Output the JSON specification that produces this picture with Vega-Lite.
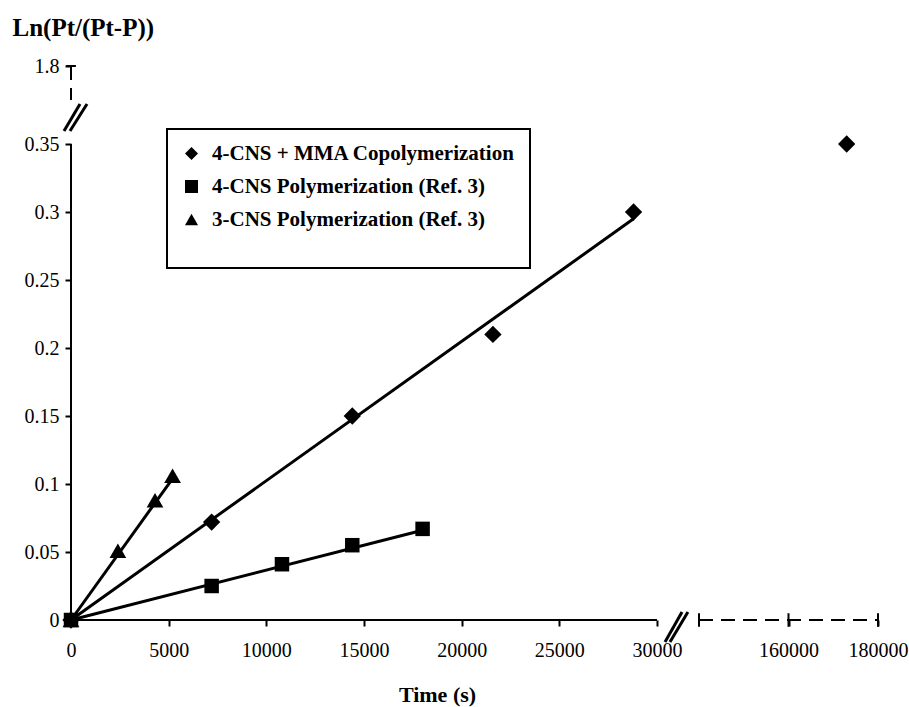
{
  "$schema": "https://vega.github.io/schema/vega-lite/v6.json",
  "width": 807,
  "height": 554,
  "autosize": "none",
  "padding": {"left": 71, "top": 66, "right": 31, "bottom": 87},
  "background": "white",
  "config": {
    "view": {"stroke": null},
    "font": "Liberation Serif",
    "axis": {
      "domain": false,
      "grid": false,
      "tickColor": "black",
      "tickSize": 6,
      "tickWidth": 2,
      "labelColor": "black",
      "labelFont": "Liberation Serif",
      "labelFontSize": 20,
      "labelFlush": false,
      "labelOverlap": false,
      "titleFont": "Liberation Serif",
      "titleFontWeight": "bold",
      "titleColor": "black"
    },
    "legend": {"strokeWidth": 2}
  },
  "datasets": {
    "points": [
      {"series": "4-CNS + MMA Copolymerization", "t": 0, "v": 0},
      {"series": "4-CNS + MMA Copolymerization", "t": 7200, "v": 0.072},
      {"series": "4-CNS + MMA Copolymerization", "t": 14400, "v": 0.15},
      {"series": "4-CNS + MMA Copolymerization", "t": 21600, "v": 0.21},
      {"series": "4-CNS + MMA Copolymerization", "t": 28800, "v": 0.30},
      {"series": "4-CNS + MMA Copolymerization", "t": 173000, "v": 0.35},
      {"series": "4-CNS Polymerization (Ref. 3)", "t": 0, "v": 0},
      {"series": "4-CNS Polymerization (Ref. 3)", "t": 7200, "v": 0.025},
      {"series": "4-CNS Polymerization (Ref. 3)", "t": 10800, "v": 0.041},
      {"series": "4-CNS Polymerization (Ref. 3)", "t": 14400, "v": 0.055},
      {"series": "4-CNS Polymerization (Ref. 3)", "t": 18000, "v": 0.067},
      {"series": "3-CNS Polymerization (Ref. 3)", "t": 0, "v": 0},
      {"series": "3-CNS Polymerization (Ref. 3)", "t": 2400, "v": 0.051},
      {"series": "3-CNS Polymerization (Ref. 3)", "t": 4300, "v": 0.088},
      {"series": "3-CNS Polymerization (Ref. 3)", "t": 5200, "v": 0.106}
    ],
    "fits": [
      {"series": "4-CNS + MMA Copolymerization", "t": 0, "v": 0},
      {"series": "4-CNS + MMA Copolymerization", "t": 28800, "v": 0.295},
      {"series": "4-CNS Polymerization (Ref. 3)", "t": 0, "v": 0},
      {"series": "4-CNS Polymerization (Ref. 3)", "t": 18000, "v": 0.066},
      {"series": "3-CNS Polymerization (Ref. 3)", "t": 0, "v": 0},
      {"series": "3-CNS Polymerization (Ref. 3)", "t": 5200, "v": 0.104}
    ],
    "axislines": [
      {"t": 0, "t2": 30000, "v": 0, "v2": 0, "style": "solid"},
      {"t": 140000, "t2": 180000, "v": 0, "v2": 0, "style": "dash"},
      {"t": 140000, "t2": 140000, "v": -0.005, "v2": 0.005, "style": "solid"},
      {"t": 160000, "t2": 160000, "v": -0.005, "v2": 0.005, "style": "solid"},
      {"t": 180000, "t2": 180000, "v": -0.005, "v2": 0.005, "style": "solid"},
      {"t": 0, "t2": 0, "v": 0, "v2": 0.35, "style": "solid"},
      {"t": 0, "t2": 0, "v": 1.8, "v2": 1.17, "style": "dash"},
      {"t": -250, "t2": 250, "v": 1.8, "v2": 1.8, "style": "solid"}
    ],
    "breaks": [
      {"t": 51000, "t2": 95500, "v": -0.0162, "v2": 0.0059},
      {"t": 64000, "t2": 111000, "v": -0.0162, "v2": 0.0059},
      {"t": -358, "t2": 461, "v": 0.592, "v2": 1.094},
      {"t": -51, "t2": 819, "v": 0.592, "v2": 1.094}
    ]
  },
  "encoding": {
    "x": {
      "field": "t",
      "type": "quantitative",
      "scale": {"domain": [0, 30000, 140000, 180000], "range": [0, 586, 628, 807], "nice": false, "zero": false},
      "axis": {
        "title": "Time (s)",
        "titleFontSize": 22,
        "values": [0, 5000, 10000, 15000, 20000, 25000, 30000, 160000, 180000],
        "format": "d",
        "labelPadding": 14,
        "titleX": 366,
        "titleY": 74,
        "titleAlign": "center",
        "titleBaseline": "middle"
      }
    },
    "y": {
      "field": "v",
      "type": "quantitative",
      "scale": {"domain": [0, 0.35, 1.8], "range": [554, 78, 0], "nice": false, "zero": false},
      "axis": {
        "title": "Ln(Pt/(Pt-P))",
        "titleFontSize": 25,
        "values": [0, 0.05, 0.1, 0.15, 0.2, 0.25, 0.3, 0.35, 1.8],
        "format": "~g",
        "labelPadding": 6,
        "titleAngle": 0,
        "titleAlign": "left",
        "titleBaseline": "middle",
        "titleX": -59,
        "titleY": -39
      }
    }
  },
  "layer": [
    {
      "data": {"name": "axislines"},
      "mark": {"type": "rule", "color": "black", "strokeWidth": 2},
      "encoding": {
        "x2": {"field": "t2"},
        "y2": {"field": "v2"},
        "strokeDash": {
          "field": "style",
          "type": "nominal",
          "scale": {"domain": ["solid", "dash"], "range": [[1, 0], [14, 8]]},
          "legend": null
        }
      }
    },
    {
      "data": {"name": "breaks"},
      "mark": {"type": "rule", "color": "black", "strokeWidth": 3},
      "encoding": {
        "x2": {"field": "t2"},
        "y2": {"field": "v2"}
      }
    },
    {
      "data": {"name": "fits"},
      "mark": {"type": "line", "color": "black", "strokeWidth": 3},
      "encoding": {
        "detail": {"field": "series", "type": "nominal"}
      }
    },
    {
      "data": {"name": "points"},
      "transform": [{"filter": "datum.series === '4-CNS Polymerization (Ref. 3)'"}],
      "mark": {"type": "point", "filled": true, "color": "black", "opacity": 1, "size": 210},
      "encoding": {
        "shape": {
          "field": "series",
          "type": "nominal",
          "scale": {
            "domain": ["4-CNS + MMA Copolymerization", "4-CNS Polymerization (Ref. 3)", "3-CNS Polymerization (Ref. 3)"],
            "range": ["diamond", "square", "triangle-up"]
          },
          "legend": {
            "orient": "none",
            "legendX": 96,
            "legendY": 63,
            "title": " ",
            "titleOrient": "bottom",
            "titleFontSize": 14,
            "titlePadding": 10,
            "strokeColor": "black",
            "padding": 14,
            "rowPadding": 11,
            "symbolSize": 170,
            "symbolFillColor": "black",
            "symbolStrokeColor": "black",
            "symbolOpacity": 1,
            "labelFont": "Liberation Serif",
            "labelFontSize": 21,
            "labelFontWeight": "bold",
            "labelColor": "black",
            "labelOffset": 10,
            "labelLimit": 400
          }
        }
      }
    },
    {
      "data": {"name": "points"},
      "transform": [{"filter": "datum.series === '4-CNS + MMA Copolymerization'"}],
      "mark": {"type": "point", "filled": true, "color": "black", "opacity": 1, "size": 300},
      "encoding": {
        "shape": {"field": "series", "type": "nominal"}
      }
    },
    {
      "data": {"name": "points"},
      "transform": [{"filter": "datum.series === '3-CNS Polymerization (Ref. 3)'"}],
      "mark": {"type": "point", "filled": true, "color": "black", "opacity": 1, "size": 280},
      "encoding": {
        "shape": {"field": "series", "type": "nominal"}
      }
    }
  ]
}
